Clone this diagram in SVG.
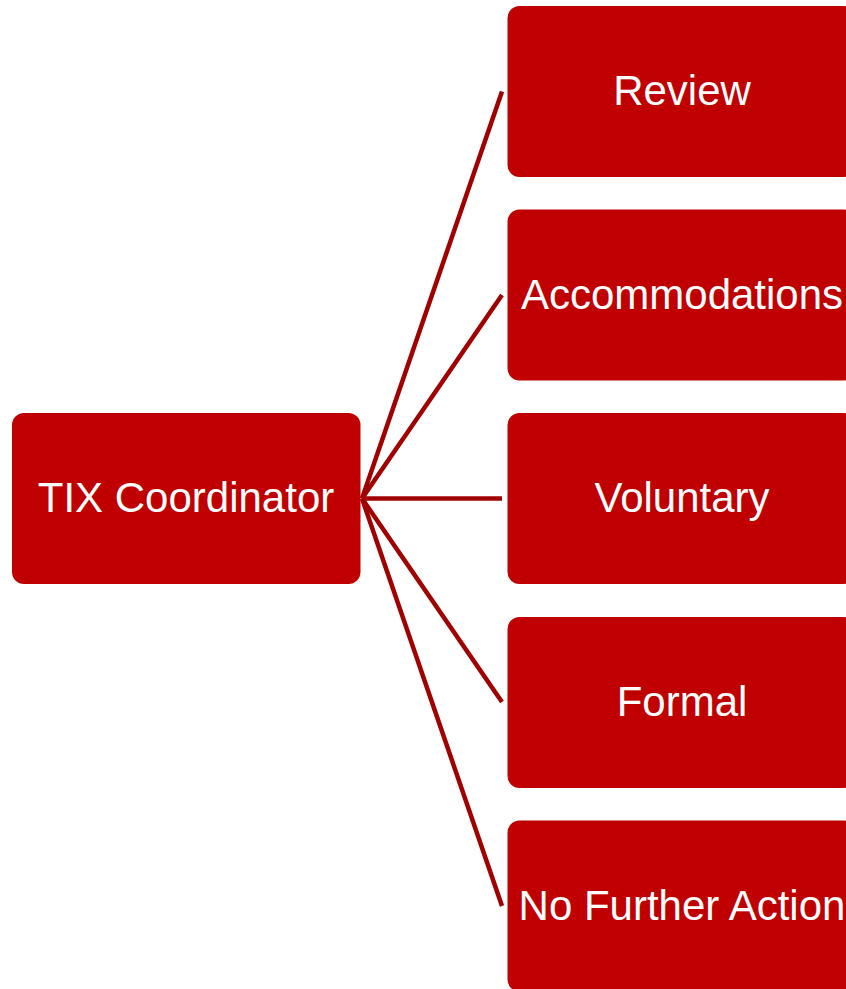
<svg xmlns="http://www.w3.org/2000/svg" width="846" height="989" viewBox="0 0 846 989">
  <style>
    .box { fill: #C00000; }
    .lbl { fill: #FFFFFF; font-family: "Liberation Sans", Arial, sans-serif; font-size: 42px; text-anchor: middle; }
    .link { stroke: #A00000; stroke-width: 4.5; fill: none; }
  </style>
  <rect width="846" height="989" fill="#FFFFFF"/>
  <g id="connectors">
    <line class="link" x1="362" y1="498.5" x2="502" y2="91.5"/>
    <line class="link" x1="362" y1="498.5" x2="502" y2="295"/>
    <line class="link" x1="362" y1="498.5" x2="502" y2="498.5"/>
    <line class="link" x1="362" y1="498.5" x2="502" y2="702"/>
    <line class="link" x1="362" y1="498.5" x2="502" y2="906"/>
  </g>
  <g id="tix-coordinator">
    <rect class="box" x="12" y="413" width="348.5" height="171" rx="12"/>
    <text class="lbl" x="186" y="512">TIX Coordinator</text>
  </g>
  <g id="review">
    <rect class="box" x="507.5" y="6" width="348.5" height="171" rx="12"/>
    <text class="lbl" x="682" y="105">Review</text>
  </g>
  <g id="accommodations">
    <rect class="box" x="507.5" y="209.5" width="348.5" height="171" rx="12"/>
    <text class="lbl" x="682" y="309">Accommodations</text>
  </g>
  <g id="voluntary">
    <rect class="box" x="507.5" y="413" width="348.5" height="171" rx="12"/>
    <text class="lbl" x="682" y="512">Voluntary</text>
  </g>
  <g id="formal">
    <rect class="box" x="507.5" y="617" width="348.5" height="171" rx="12"/>
    <text class="lbl" x="682" y="716">Formal</text>
  </g>
  <g id="no-further-action">
    <rect class="box" x="507.5" y="820.5" width="348.5" height="171" rx="12"/>
    <text class="lbl" x="682" y="919.5">No Further Action</text>
  </g>
</svg>
